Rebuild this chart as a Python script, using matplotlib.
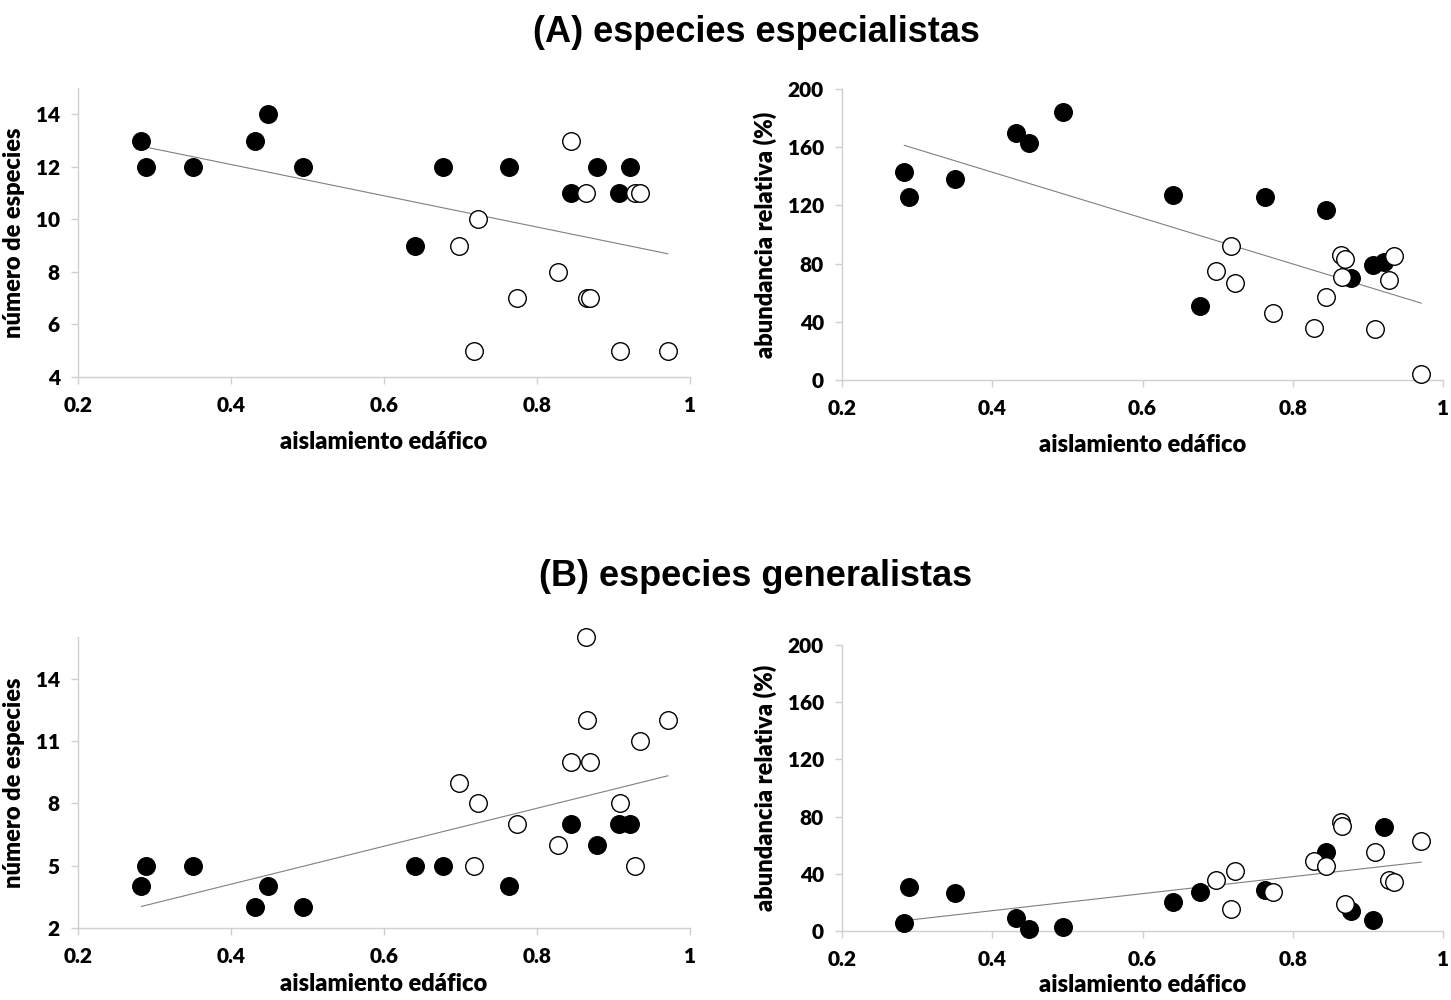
import numpy as np
import matplotlib
matplotlib.use("Agg")
import matplotlib.pyplot as plt

# shared x values (aislamiento edáfico)
x_black = [0.283, 0.289, 0.350, 0.431, 0.449, 0.494, 0.641, 0.677, 0.763, 0.844, 0.878, 0.907, 0.921]
x_white = [0.698, 0.718, 0.723, 0.774, 0.828, 0.844, 0.864, 0.865, 0.869, 0.909, 0.928, 0.935, 0.971]

# (A) especialistas
spec_n_black = [13, 12, 12, 13, 14, 12, 9, 12, 12, 11, 12, 11, 12]
spec_n_white = [9, 5, 10, 7, 8, 13, 11, 7, 7, 5, 11, 11, 5]
spec_ab_black = [143, 126, 138, 170, 163, 184, 127, 51, 126, 117, 70, 79, 81]
spec_ab_white = [75, 92, 67, 46, 36, 57, 86, 71, 83, 35, 69, 85, 4]

# (B) generalistas
gen_n_black = [4, 5, 5, 3, 4, 3, 5, 5, 4, 7, 6, 7, 7]
gen_n_white = [9, 5, 8, 7, 6, 10, 16, 12, 10, 8, 5, 11, 12]
gen_ab_black = [5.5, 31, 26.5, 9, 1.2, 2.6, 20, 27.5, 28.5, 55, 14, 7.5, 73]
gen_ab_white = [35.5, 15.5, 42, 27, 49, 45.5, 76, 73.5, 19, 55, 35.5, 34.5, 63]

x_ticks = [0.2, 0.4, 0.6, 0.8, 1.0]
x_ticklabels = ["0.2", "0.4", "0.6", "0.8", "1"]
xlabel = "aislamiento edáfico"
ylabel_n = "número de especies"
ylabel_ab = "abundancia relativa (%)"

fig = plt.figure(figsize=(14.51, 10), dpi=100)
W, H = 1451, 1000

def ax_px(x0, y0, x1, y1):
    return fig.add_axes([x0 / W, 1 - y1 / H, (x1 - x0) / W, (y1 - y0) / H])

tick_font = dict(family="Lato", weight="heavy", size=15)
label_font = dict(family="Lato", weight="heavy", size=17)
gray = "#d0d0d0"

def panel(ax, yb, yw, ylim, yticks, ylabel, xpad):
    xs = np.array(x_black + x_white)
    ys = np.array(yb + yw, dtype=float)
    m, b = np.polyfit(xs, ys, 1)
    xl = np.array([xs.min(), xs.max()])
    ax.plot(xl, m * xl + b, color="#808080", lw=0.8, zorder=1)
    ax.scatter(x_black, yb, s=160, c="black", edgecolors="black", linewidths=1.0, zorder=3, clip_on=False)
    ax.scatter(x_white, yw, s=160, c="white", edgecolors="black", linewidths=1.0, zorder=3, clip_on=False)
    ax.set_xlim(0.2, 1.0)
    ax.set_ylim(*ylim)
    ax.set_xticks(x_ticks)
    ax.set_xticklabels(x_ticklabels, **tick_font)
    ax.set_yticks(yticks)
    ax.set_yticklabels([str(t) for t in yticks], **tick_font)
    for s in ["top", "right"]:
        ax.spines[s].set_visible(False)
    for s in ["left", "bottom"]:
        ax.spines[s].set_color(gray)
        ax.spines[s].set_linewidth(1.0)
    ax.tick_params(axis="both", direction="out", length=5, width=1.0, color=gray)
    ax.tick_params(axis="x", pad=9)
    ax.tick_params(axis="y", pad=8)
    ax.set_xlabel(xlabel, labelpad=xpad, **label_font)
    ax.set_ylabel(ylabel, labelpad=8, **label_font)
    ax.patch.set_alpha(0)

a1 = ax_px(78, 88, 690, 377)
panel(a1, spec_n_black, spec_n_white, (4, 15), [4, 6, 8, 10, 12, 14], ylabel_n, 11)
a2 = ax_px(842, 89, 1443, 380)
panel(a2, spec_ab_black, spec_ab_white, (0, 200), [0, 40, 80, 120, 160, 200], ylabel_ab, 11)
a3 = ax_px(78, 637, 690, 928)
panel(a3, gen_n_black, gen_n_white, (2, 16), [2, 5, 8, 11, 14], ylabel_n, 5)
a4 = ax_px(842, 645, 1443, 931)
panel(a4, gen_ab_black, gen_ab_white, (0, 200), [0, 40, 80, 120, 160, 200], ylabel_ab, 3)

fig.text(756 / W, 1 - 32 / H, "(A) especies especialistas", ha="center", va="center",
         family="Liberation Sans", weight="bold", size=26)
fig.text(756 / W, 1 - 577 / H, "(B) especies generalistas", ha="center", va="center",
         family="Liberation Sans", weight="bold", size=26)

fig.savefig("out.png", dpi=100)
